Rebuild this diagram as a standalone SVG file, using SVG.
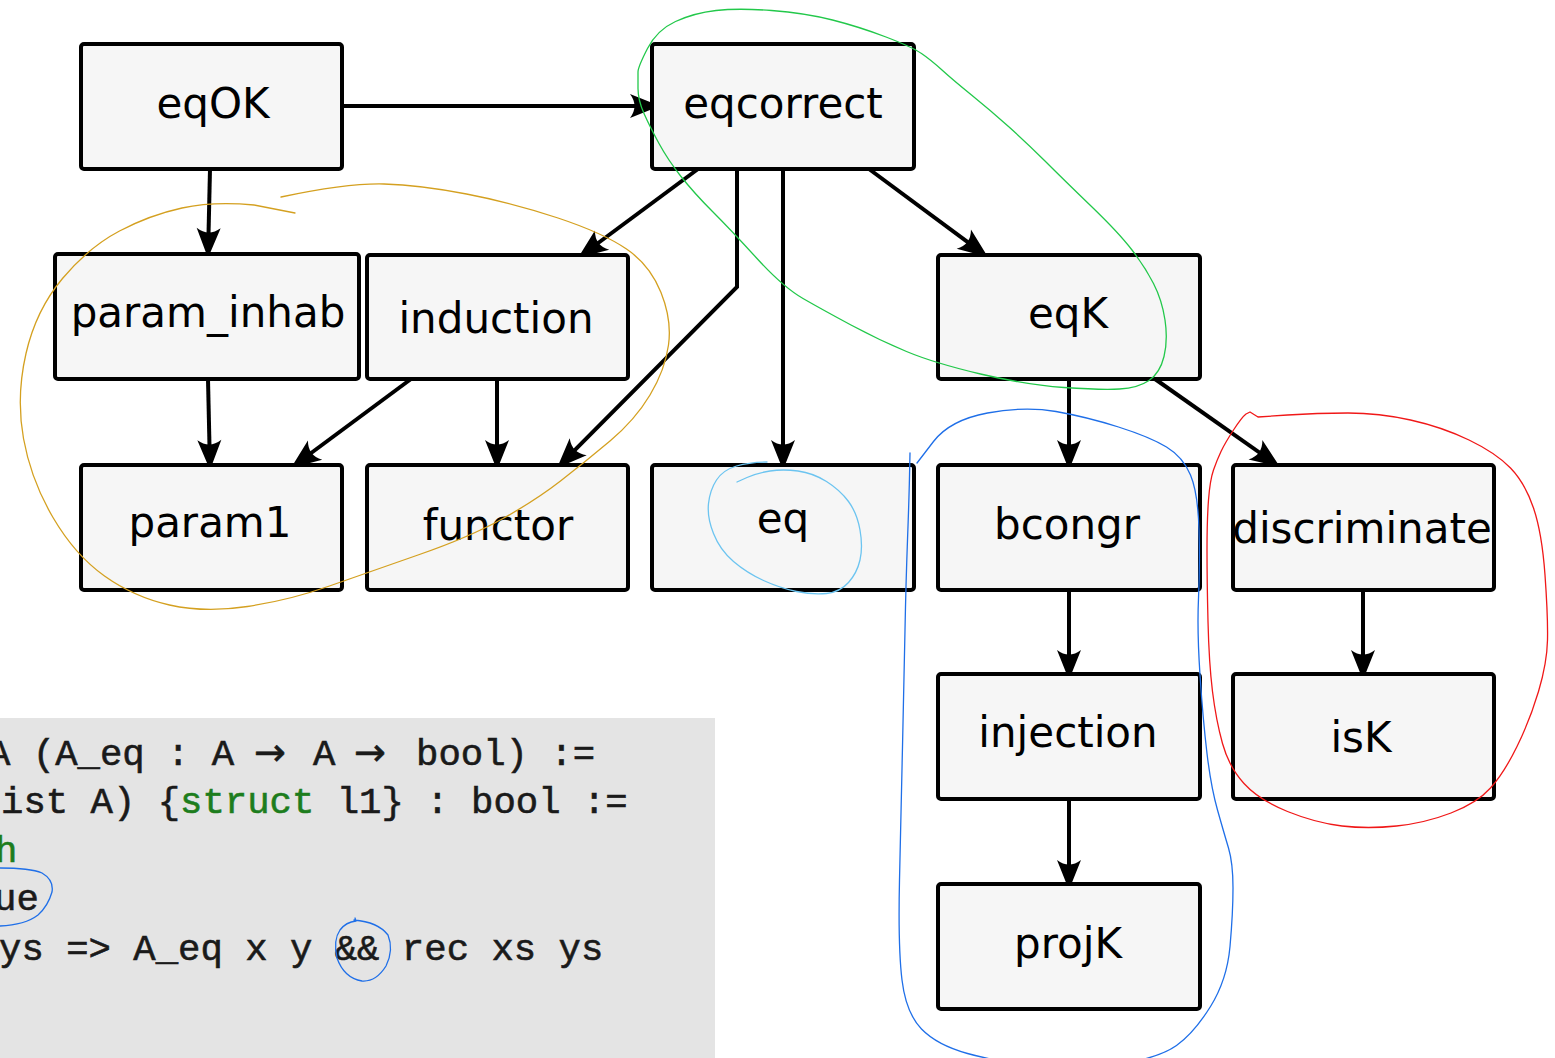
<svg xmlns="http://www.w3.org/2000/svg" width="1555" height="1058" viewBox="0 0 1555 1058">
<style>
.box{fill:#f6f6f6;stroke:#000;stroke-width:4}
.lbl{font-family:"DejaVu Sans",sans-serif;font-size:42px;fill:#000;text-anchor:middle}
.edge{fill:none;stroke:#000;stroke-width:4}
.code{font-family:"Liberation Mono",monospace;font-size:37.3px;fill:#1a1a1a;stroke:#1a1a1a;stroke-width:0.6}
.kw{fill:#1d7d1d;stroke:#1d7d1d}
.ann{fill:none;stroke-width:1.3;stroke-linecap:round;stroke-linejoin:round}
</style>
<defs>
<marker id="ah" markerUnits="userSpaceOnUse" markerWidth="44" markerHeight="32" viewBox="-22 -16 44 32" refX="0" refY="0" orient="auto">
<path d="M10,0 L-20,-12 Q-11,0 -20,12 Z" fill="#000"/>
</marker>
</defs>
<rect x="0" y="718" width="715" height="340" fill="#e4e4e4"/>
<g id="code">
<text class="code" y="765"><tspan x="-12">A (A_eq : A</tspan><tspan x="254" font-family="DejaVu Sans, sans-serif" font-size="38">→</tspan><tspan x="313">A</tspan><tspan x="354" font-family="DejaVu Sans, sans-serif" font-size="38">→</tspan><tspan x="416">bool) :=</tspan></text>
<text class="code" x="1" y="813">ist A) {<tspan class="kw">struct</tspan> l1} : bool :=</text>
<text class="code kw" x="-5" y="862">h</text>
<text class="code" x="-6" y="910">ue</text>
<text class="code" x="-1" y="960">ys =&gt; A_eq x y &amp;&amp; rec xs ys</text>
</g>
<g id="connectors">
<path class="edge" d="M342,106 L650,106" marker-end="url(#ah)"/>
<path class="edge" d="M210,169 L208.2,248" marker-end="url(#ah)"/>
<path class="edge" d="M698,169 L586,252" marker-end="url(#ah)"/>
<path class="edge" d="M737,169 L737,287 L564.1,460.9" marker-end="url(#ah)"/>
<path class="edge" d="M783,169 L783,460" marker-end="url(#ah)"/>
<path class="edge" d="M869,169 L979.9,251.1" marker-end="url(#ah)"/>
<path class="edge" d="M208,379 L209.8,460" marker-end="url(#ah)"/>
<path class="edge" d="M411,379 L299,462" marker-end="url(#ah)"/>
<path class="edge" d="M497,379 L497,460" marker-end="url(#ah)"/>
<path class="edge" d="M1069,379 L1069,460" marker-end="url(#ah)"/>
<path class="edge" d="M1155,379 L1271.8,461.2" marker-end="url(#ah)"/>
<path class="edge" d="M1069,590 L1069,670" marker-end="url(#ah)"/>
<path class="edge" d="M1363,590 L1363,670" marker-end="url(#ah)"/>
<path class="edge" d="M1069,799 L1069,880" marker-end="url(#ah)"/>
</g>
<g id="eqOK"><rect class="box" x="81" y="44" width="261" height="125" rx="3"/><text class="lbl" x="213" y="118">eqOK</text></g>
<g id="eqcorrect"><rect class="box" x="652" y="44" width="262" height="125" rx="3"/><text class="lbl" x="783" y="118">eqcorrect</text></g>
<g id="param_inhab"><rect class="box" x="55" y="254" width="304" height="125" rx="3"/><text class="lbl" x="208" y="327">param_inhab</text></g>
<g id="induction"><rect class="box" x="367" y="255" width="261" height="124" rx="3"/><text class="lbl" x="496" y="333">induction</text></g>
<g id="eqK"><rect class="box" x="938" y="255" width="262" height="124" rx="3"/><text class="lbl" x="1068" y="328">eqK</text></g>
<g id="param1"><rect class="box" x="81" y="465" width="261" height="125" rx="3"/><text class="lbl" x="210" y="537">param1</text></g>
<g id="functor"><rect class="box" x="367" y="465" width="261" height="125" rx="3"/><text class="lbl" x="498" y="540">functor</text></g>
<g id="eq"><rect class="box" x="652" y="465" width="262" height="125" rx="3"/><text class="lbl" x="783" y="533">eq</text></g>
<g id="bcongr"><rect class="box" x="938" y="465" width="262" height="125" rx="3"/><text class="lbl" x="1067" y="539">bcongr</text></g>
<g id="discriminate"><rect class="box" x="1233" y="465" width="261" height="125" rx="3"/><text class="lbl" x="1362" y="543">discriminate</text></g>
<g id="injection"><rect class="box" x="938" y="674" width="262" height="125" rx="3"/><text class="lbl" x="1068" y="747">injection</text></g>
<g id="isK"><rect class="box" x="1233" y="674" width="261" height="125" rx="3"/><text class="lbl" x="1361" y="752">isK</text></g>
<g id="projK"><rect class="box" x="938" y="884" width="262" height="125" rx="3"/><text class="lbl" x="1068" y="958">projK</text></g>
<g id="annotations">
<path class="ann" stroke="#d4a020" d="M281,197 Q348,183 384,184 Q420,185 466.5,194 Q513,203 558,218 Q603,233 626.5,249 Q650,265 661,292.5 Q672,320 668.5,345 Q665,370 650,395 Q635,420 610,441 Q585,462 560.5,481 Q536,500 503,518.5 Q470,537 418,555 Q366,573 328,586.5 Q290,600 247.5,606.5 Q205,613 169.5,605 Q134,597 104.5,576 Q75,555 53,517.5 Q31,480 23.5,438.5 Q16,397 26,353.5 Q36,310 62.5,278.5 Q89,247 119.5,231 Q150,215 182,208 Q214,201 254,205 L295,213"/>
<path class="ann" stroke="#22c84a" d="M638,72 Q638,67 647.5,48.5 Q657,30 675.5,21.5 Q694,13 716,10.5 Q738,8 771.5,10.5 Q805,13 832.5,20 Q860,27 886,37 Q912,47 921.5,53.5 Q931,60 942,70 Q953,80 971.5,95 Q990,110 1008.5,126.5 Q1027,143 1045.5,161.5 Q1064,180 1091.5,206.5 Q1119,233 1132,250 Q1145,267 1153.5,283.5 Q1162,300 1165,320 Q1168,340 1164,356.5 Q1160,373 1149,380.5 Q1138,388 1119.5,389 Q1101,390 1064,387.5 Q1027,385 980.5,374 Q934,363 906.5,351.5 Q879,340 851,325 Q823,310 803,298.5 Q783,287 757,258.5 Q731,230 712.5,211.5 Q694,193 681,176.5 Q668,160 659,143.5 Q650,127 644,113.5 Q638,100 638,88.5 Q638,77 638,72"/>
<path class="ann" stroke="#6cc4f0" d="M737,482 L747,477.5 Q757,473 770,471 Q783,469 798,471 Q813,473 826.5,481.5 Q840,490 848.5,501.5 Q857,513 860,530 Q863,547 860,560 Q857,573 848.5,582.5 Q840,592 826.5,593.5 Q813,595 796.5,591.5 Q780,588 763.5,580.5 Q747,573 733.5,561.5 Q720,550 713.5,533.5 Q707,517 708.5,503.5 Q710,490 716.5,480 Q723,470 736.5,466 Q750,462 767,462"/>
<path class="ann" stroke="#1f6fe8" d="M910,453 L909.5,476.5 Q909,500 907.5,540 Q906,580 905,630 Q904,680 902.5,746.5 Q901,813 899.5,880 Q898,947 902,980 Q906,1013 921.5,1029 Q937,1045 967.5,1053.5 Q998,1062 1039,1066 Q1080,1070 1119.5,1064 Q1159,1058 1176.5,1045.5 Q1194,1033 1210.5,1006.5 Q1227,980 1230,946.5 Q1233,913 1233,888 Q1233,863 1228.5,848 Q1224,833 1217.5,810 Q1211,787 1207,753.5 Q1203,720 1200,675 Q1197,630 1198.5,598.5 Q1200,567 1199,530 Q1198,493 1190.5,475 Q1183,457 1166.5,447 Q1150,437 1118.5,427 Q1087,417 1056,411.5 Q1025,406 987.5,413 Q950,420 933.5,441.5 L917,463"/>
<path class="ann" stroke="#f01818" d="M1258,417 L1287.5,415 Q1317,413 1348,413 Q1379,413 1410.5,420 Q1442,427 1469,440 Q1496,453 1510.5,468 Q1525,483 1533.5,508 Q1542,533 1545,575 Q1548,617 1547.5,640 Q1547,663 1538.5,691.5 Q1530,720 1517,746.5 Q1504,773 1490.5,788 Q1477,803 1451,813 Q1425,823 1396.5,826 Q1368,829 1342,826 Q1316,823 1287.5,811.5 Q1259,800 1244,783.5 Q1229,767 1222.5,743.5 Q1216,720 1212.5,691.5 Q1209,663 1208,621.5 Q1207,580 1207,550 Q1207,520 1208.5,500 Q1210,480 1213.5,470 Q1217,460 1221,451.5 Q1225,443 1233.5,430 Q1242,417 1246,414 L1250,412 L1258,417"/>
<path class="ann" stroke="#1f6fe8" d="M0,868 Q30,868 42,873 Q54,880 52,892 Q48,906 38,915 Q25,925 0,926"/>
<path class="ann" stroke="#1f6fe8" d="M354,920 Q378,922 388,935 Q394,950 386,966 Q376,982 362,981 Q344,978 337,958 Q333,940 340,930 Q346,922 356,921 L355,918"/>
</g>
</svg>
